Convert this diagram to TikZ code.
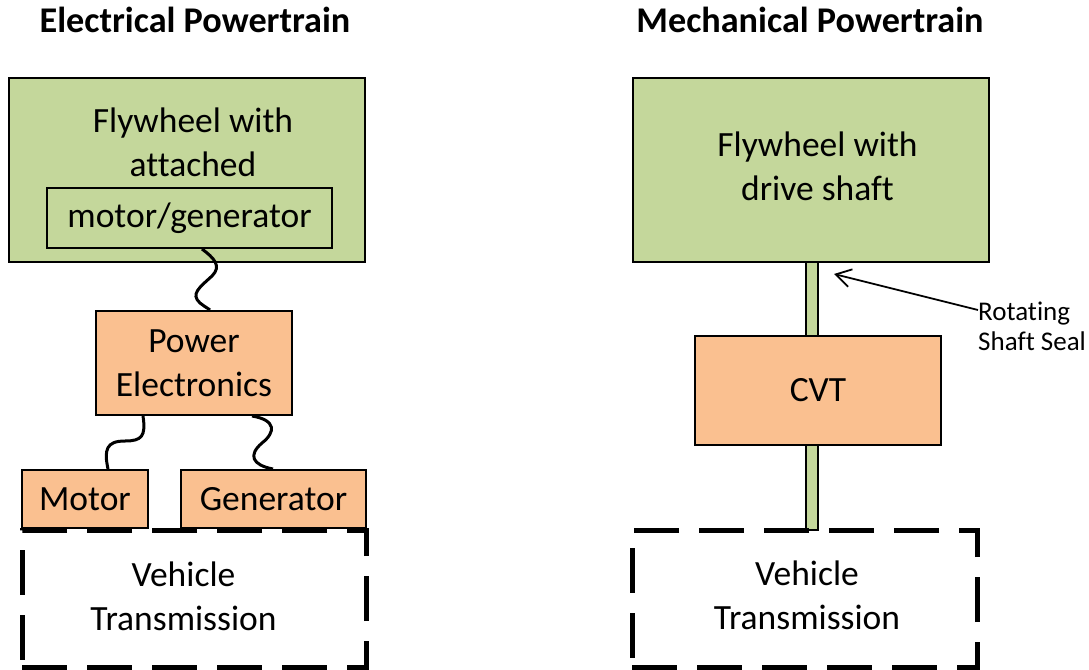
\documentclass[tikz,border=0pt]{standalone}
\usepackage{fontspec}
\setmainfont{Carlito}[Ligatures=CommonOff]
\usetikzlibrary{arrows.meta,calc}
\definecolor{fwgreen}{HTML}{C4D79B}
\definecolor{peach}{HTML}{FAC090}
\begin{document}
\begin{tikzpicture}[x=1pt,y=-1pt,
 box/.style={draw=black,line width=2pt,inner sep=0pt,align=center,font=\fontsize{35.5}{44}\selectfont},
 greenbox/.style={box,fill=fwgreen},
 orangebox/.style={box,fill=peach},
 dashbox/.style={box,line width=5pt,dash pattern=on 45pt off 20pt},
 wire/.style={line width=3pt,black},
 titletext/.style={font=\bfseries\fontsize{36.2}{44}\selectfont,anchor=base,inner sep=0pt},
 plaintext/.style={font=\fontsize{35.5}{44}\selectfont,align=center,inner sep=0pt},
 smalltext/.style={font=\fontsize{27}{30}\selectfont,align=left,inner sep=0pt},
 pointer/.style={line width=1.8pt,-{Straight Barb[length=15pt,width=18pt]}},
 ]
\useasboundingbox (0,0) rectangle (1089,669);

% titles
\node[titletext] (t1) at (195,33) {Electrical Powertrain};
\node[titletext] (t2) at (810,33) {Mechanical Powertrain};

% ---------- electrical ----------
\node[greenbox,minimum width=356pt,minimum height=184pt] (fwL) at (187,170) {};
\node[plaintext] (fwLtxt) at (193,142) {Flywheel with\\attached};
\node[greenbox,minimum width=285pt,minimum height=60pt] (mg) at (189.5,218) {motor/generator};
\node[orangebox,minimum width=196pt,minimum height=104pt] (pe) at (194,363) {Power\\Electronics};
\node[dashbox,minimum width=344pt,minimum height=137pt] (vtL) at (194,598.5) {};
\node[plaintext] (vtLtxt) at (183.5,596) {Vehicle\\Transmission};
\node[orangebox,minimum width=126pt,minimum height=58pt] (mot) at (85,499) {Motor};
\node[orangebox,minimum width=185pt,minimum height=58pt] (gen) at (273.5,499) {Generator};

\draw[wire] ([xshift=12.5pt]mg.south) .. controls (214,258) and (222,266) .. (212,276)
  .. controls (200,287) and (190,294) .. (200,303) .. controls (205,307) and (209,309) .. ([xshift=16pt]pe.north);
\draw[wire] ([xshift=-51pt]pe.south) .. controls (146,436) and (142,441) .. (125,441)
  .. controls (106,441) and (104,450) .. ([xshift=23pt]mot.north);
\draw[wire] ([xshift=58pt]pe.south) .. controls (276,420) and (276,432) .. (262,443)
  .. controls (248,455) and (252,465) .. ([xshift=-0.5pt]gen.north);

% ---------- mechanical ----------
\node[draw=black,line width=1.5pt,fill=fwgreen,minimum width=12pt,minimum height=268pt,inner sep=0pt] (shaft) at (812,396) {};
\node[greenbox,minimum width=356pt,minimum height=184pt] (fwR) at (811,170) {};
\node[plaintext] (fwRtxt) at (817.5,166.5) {Flywheel with\\drive shaft};
\node[orangebox,minimum width=246pt,minimum height=109pt] (cvt) at (818,390.5) {CVT};
\node[dashbox,minimum width=345pt,minimum height=137pt] (vtR) at (804.5,598.5) {};
\node[plaintext] (vtRtxt) at (807,595.5) {Vehicle\\Transmission};

\node[smalltext,anchor=north west] (seal) at (978,302) {Rotating\\Shaft Seal};
\coordinate (sealpt) at (834,274);
\draw[pointer] ([yshift=-8pt]seal.north west) -- (sealpt);
\end{tikzpicture}
\end{document}
